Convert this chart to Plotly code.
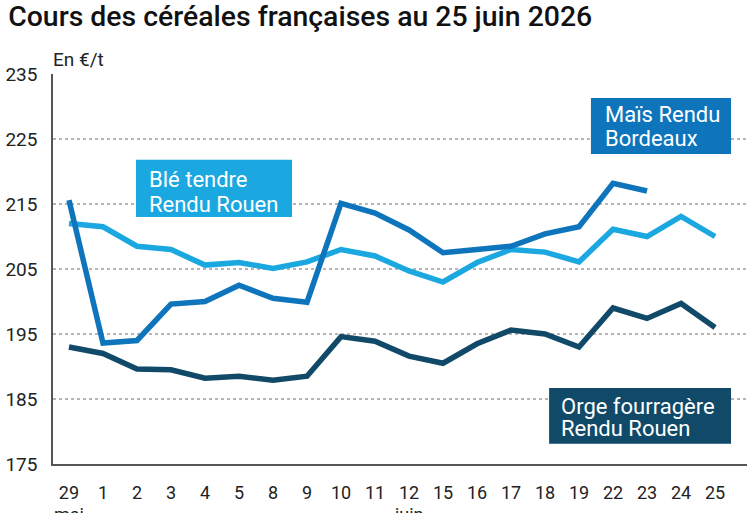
import plotly.graph_objects as go

categories = ["29", "1", "2", "3", "4", "5", "8", "9", "10", "11", "12",
              "15", "16", "17", "18", "19", "22", "23", "24", "25"]
mais = [215.6, 193.6, 194.0, 199.6, 200.0, 202.5, 200.5, 199.9, 215.1, 213.6, 211.0,
        207.5, 208.0, 208.5, 210.4, 211.5, 218.2, 217.0, None, None]
ble = [212.0, 211.5, 208.5, 208.0, 205.6, 206.0, 205.1, 206.1, 208.0, 207.0, 204.7,
       203.0, 206.0, 208.0, 207.6, 206.1, 211.1, 210.0, 213.1, 210.0]
orge = [193.0, 192.0, 189.6, 189.5, 188.2, 188.5, 187.9, 188.5, 194.6, 193.9, 191.6,
        190.5, 193.5, 195.6, 195.0, 193.0, 199.0, 197.4, 199.7, 196.0]
y_ticks = [175, 185, 195, 205, 215, 225, 235]
series_labels = [["Blé tendre", "Rendu Rouen"],
                 ["Maïs Rendu", "Bordeaux"],
                 ["Orge fourragère", "Rendu Rouen"]]

c_mais = "#0e75bc"
c_ble = "#1ba7df"
c_orge = "#114a68"

x = list(range(len(categories)))
fig = go.Figure()
for vals, col in [(orge, c_orge), (ble, c_ble), (mais, c_mais)]:
    fig.add_trace(go.Scatter(x=x, y=vals, mode="lines",
                             line=dict(color=col, width=5.5),
                             connectgaps=False, hoverinfo="skip"))

fig.update_layout(
    width=747, height=513,
    margin=dict(l=53, r=0, t=74, b=49),
    paper_bgcolor="white", plot_bgcolor="white",
    showlegend=False,
    font=dict(family="Roboto", size=18, color="#222"),
    title=dict(text="Cours des céréales françaises au 25 juin 2026",
               x=0.011, xanchor="left", y=0.969, yanchor="middle",
               font=dict(family="Roboto", size=28.4, color="#111", weight=500)),
)
fig.update_xaxes(
    range=[-0.47, 19.94], tickmode="array", tickvals=x, ticktext=categories,
    showgrid=False, showline=True, linecolor="#555", linewidth=1.5,
    ticks="", tickfont=dict(size=18, color="#222"), ticklabelstandoff=12,
    zeroline=False,
)
fig.update_yaxes(
    range=[175, 235], tickmode="array", tickvals=y_ticks,
    showgrid=True, gridcolor="#b5b5b5", griddash="dot", gridwidth=1.5,
    showline=True, linecolor="#555", linewidth=1.5, zeroline=False,
    ticks="", tickfont=dict(size=19, color="#222"), ticklabelstandoff=10,
)

# month labels under x axis
for idx, lab in [(0, "mai"), (10, "juin")]:
    fig.add_annotation(x=idx, y=0, xref="x", yref="paper", yshift=-50,
                       text=lab, showarrow=False, yanchor="middle",
                       font=dict(size=18, color="#222"))

fig.add_annotation(x=0, y=1, xref="paper", yref="paper", xanchor="left",
                   yanchor="middle", yshift=15, xshift=-2, text="En €/t", showarrow=False,
                   font=dict(size=19, color="#222"))

# series labels (boxes): (x0, x1, y0, y1, text x, line1 y, line2 y, colour)
box_pos = [
    (1.97, 6.56, 213.0, 221.8, 2.29, 218.7, 214.85, c_ble),
    (15.35, 19.47, 222.7, 231.3, 15.71, 228.7, 225.15, c_mais),
    (14.12, 19.47, 178.1, 186.7, 14.41, 183.8, 180.4, c_orge),
]
for lines, (x0, x1, y0, y1, tx, ly1, ly2, col) in zip(series_labels, box_pos):
    fig.add_shape(type="rect", xref="x", yref="y", x0=x0, x1=x1, y0=y0, y1=y1,
                  fillcolor=col, line=dict(width=0), layer="above")
    for txt, ly in zip(lines, [ly1, ly2]):
        fig.add_annotation(x=tx, y=ly, xref="x", yref="y", text=txt, showarrow=False,
                           xanchor="left", yanchor="middle",
                           font=dict(size=22, color="white"))

fig.write_html("out.html")
